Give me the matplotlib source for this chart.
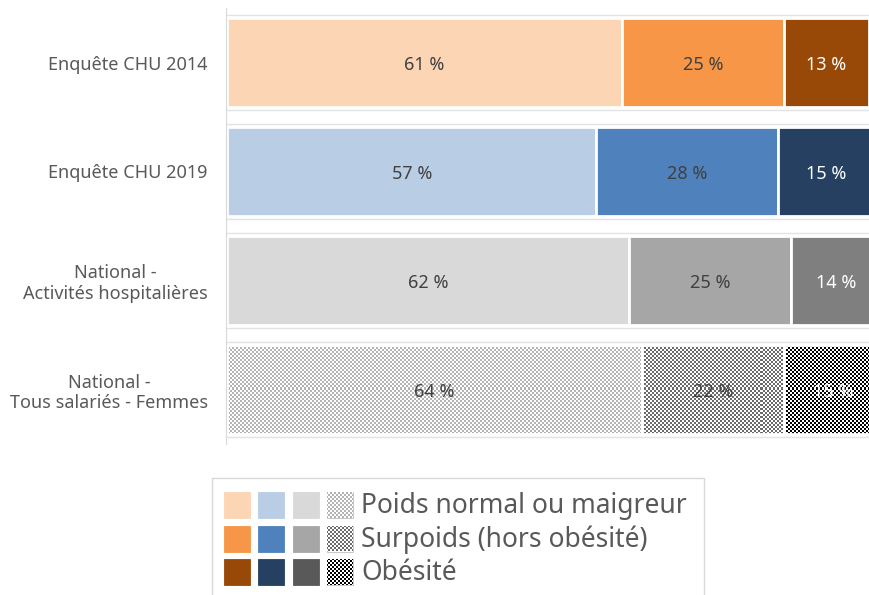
import numpy as np
import matplotlib
matplotlib.use('Agg')
import matplotlib.pyplot as plt
from matplotlib.patches import Rectangle

plt.rcParams['font.family'] = ['Noto Sans', 'DejaVu Sans']

categories = ['Enquête CHU 2014', 'Enquête CHU 2019',
              'National -\nActivités hospitalières',
              'National -\nTous salariés - Femmes']
series = ['Poids normal ou maigreur', 'Surpoids (hors obésité)', 'Obésité']
normal = [61, 57, 62, 64]
surpoids = [25, 28, 25, 22]
obesite = [13, 15, 14, 15]

# one colour set per row: (normal, surpoids, obesite); None = checker pattern
row_colors = [['#fcd5b5', '#f79646', '#984807'],
              ['#b9cde5', '#4f81bd', '#254061'],
              ['#d9d9d9', '#a6a6a6', '#7f7f7f'],
              [None, None, None]]
legend_colors = [['#fcd5b5', '#f79646', '#984807'],
                 ['#b9cde5', '#4f81bd', '#254061'],
                 ['#d9d9d9', '#a6a6a6', '#595959'],
                 [None, None, None]]
# checker pattern (dark cell colour) per series
checker_dark = ['#b4b4b4', '#6a6a6a', '#000000']
label_colors = ['#404040', '#404040', 'white']

W, H = 870, 595
fig = plt.figure(figsize=(W / 100, H / 100), dpi=100)
ax_left, ax_top, ax_bot = 226, 8, 444
ax = fig.add_axes([ax_left / W, 1 - ax_bot / H, 1 - ax_left / W, (ax_bot - ax_top) / H])
ax.patch.set_visible(False)


def checker(h, w, dark):
    yy, xx = np.mgrid[0:h, 0:w]
    mask = ((yy // 2 + xx // 2) % 2).astype(float)
    c = np.array(matplotlib.colors.to_rgb(dark))
    img = np.ones((h, w, 3))
    img[mask == 1] = c
    return img


xlim = (-0.15, 99.2)
ylim = (3.5, -0.5)
bh = 0.82
y = np.arange(len(categories))
vals = [normal, surpoids, obesite]
left = np.zeros(len(categories))
for j, v in enumerate(vals):
    for i in range(len(categories)):
        col = row_colors[i][j]
        bar = ax.barh(y[i], v[i], left=left[i], height=bh,
                      color=col if col else 'white', edgecolor='white',
                      linewidth=2, zorder=1)[0]
        if col is None:
            im = ax.imshow(checker(ax_bot - ax_top, W - ax_left, checker_dark[j]),
                           extent=(xlim[0], xlim[1], ylim[0], ylim[1]),
                           aspect='auto', interpolation='nearest', zorder=1.5)
            im.set_clip_path(bar)
            ax.barh(y[i], v[i], left=left[i], height=bh, color='none',
                    edgecolor='white', linewidth=2, zorder=2)
        ax.text(left[i] + v[i] / 2, y[i] + 0.025, f'{v[i]} %', ha='center',
                va='center', fontsize=13, color=label_colors[j], zorder=3)
    left += np.array(v)

for i in y:
    for d in (-0.44, 0.44):
        ax.axhline(i + d, color='#e3e3e3', lw=1, zorder=0)

ax.set_xlim(*xlim)
ax.set_ylim(*ylim)
ax.set_yticks(y)
ax.set_yticklabels(categories, fontsize=13, color='#595959')
for lbl in ax.get_yticklabels():
    lbl.set_multialignment('center')
ax.tick_params(axis='y', length=0, pad=13)
ax.set_xticks([])
for s in ['top', 'right', 'bottom']:
    ax.spines[s].set_visible(False)
ax.spines['left'].set_color('#d9d9d9')

# legend drawn in figure pixel coordinates
lax = fig.add_axes([0, 0, 1, 1])
lax.set_xlim(0, W)
lax.set_ylim(H, 0)
lax.axis('off')
lax.add_patch(Rectangle((212, 478), 492, 130, facecolor='white',
                        edgecolor='#d9d9d9', lw=1))
for j, name in enumerate(series):
    ry = 492 + j * 33.5
    for k in range(len(legend_colors)):
        rx = 224 + k * 34.3
        col = legend_colors[k][j]
        sw = Rectangle((rx, ry), 26, 26, facecolor=col if col else 'white',
                       edgecolor='#bfbfbf' if col is None else col, lw=0.6)
        lax.add_patch(sw)
        if col is None:
            im = lax.imshow(checker(H, W, checker_dark[j]), extent=(0, W, H, 0),
                            aspect='auto', interpolation='nearest', zorder=2)
            im.set_clip_path(sw)
    lax.text(361, ry + 14, name, fontsize=19, color='#595959', va='center')
lax.set_xlim(0, W)
lax.set_ylim(H, 0)

fig.savefig('out.png', dpi=100)
